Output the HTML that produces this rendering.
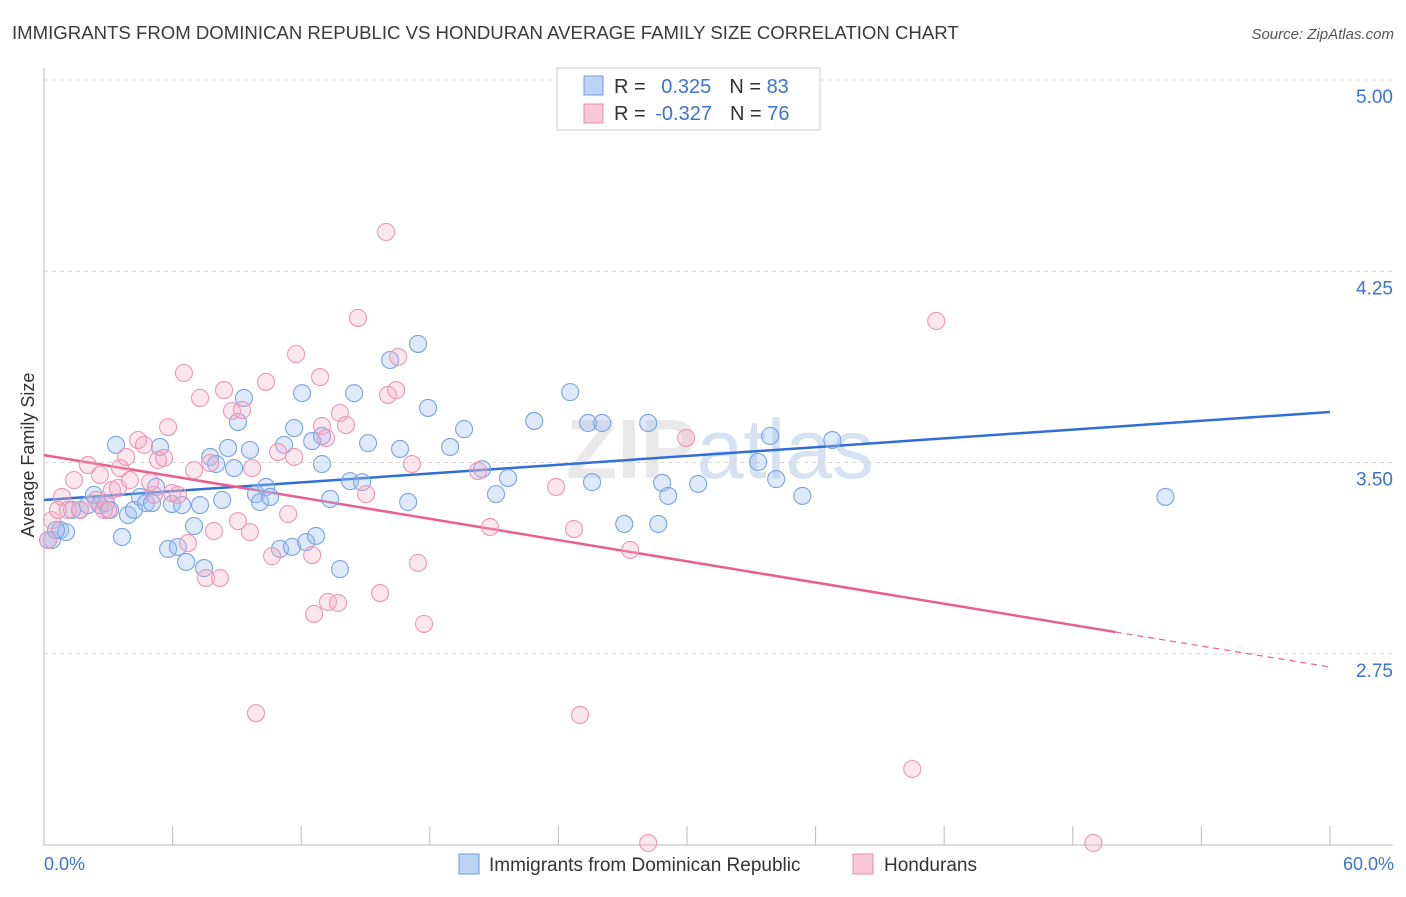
<!DOCTYPE html>
<html><head><meta charset="utf-8"><style>
body{margin:0;background:#fff;font-family:"Liberation Sans",sans-serif;}
svg text{font-family:"Liberation Sans",sans-serif;}
</style></head><body>
<svg id="chart" width="1406" height="892" viewBox="0 0 1406 892">
<text x="12" y="39" font-size="18.6" fill="#3a3a3a">IMMIGRANTS FROM DOMINICAN REPUBLIC VS HONDURAN AVERAGE FAMILY SIZE CORRELATION CHART</text>
<text x="1394" y="39" font-size="15" fill="#555" font-style="italic" text-anchor="end">Source: ZipAtlas.com</text>
<text x="720" y="478" font-size="84" fill="#e9e9e9" text-anchor="middle" font-weight="bold">ZIP<tspan font-weight="normal" fill="#d6e2f2">atlas</tspan></text>
<g id="grid"></g><g id="axes"></g><g id="lines"></g><g id="pts"></g>
<text transform="translate(34,455) rotate(-90)" font-size="18" fill="#333" text-anchor="middle">Average Family Size</text>
<text x="44" y="870" font-size="18" fill="#3b73d0">0.0%</text>
<text x="1394" y="870" font-size="18" fill="#3b73d0" text-anchor="end">60.0%</text>
<g>
<rect x="557" y="68" width="263" height="62" fill="#fff" stroke="#ccc"/>
<rect x="584" y="76" width="19" height="19" fill="#bcd3f5" stroke="#6c9be0"/>
<rect x="584" y="104" width="19" height="19" fill="#f8c8d8" stroke="#e88aaa"/>
<text x="614" y="93" font-size="20" fill="#333">R = <tspan fill="#3b73d0" dx="10">0.325</tspan><tspan dx="18">N = </tspan><tspan fill="#3b73d0">83</tspan></text>
<text x="614" y="120" font-size="20" fill="#333">R = <tspan fill="#3b73d0" dx="4">-0.327</tspan><tspan dx="18">N = </tspan><tspan fill="#3b73d0">76</tspan></text>
</g>
<g>
<rect x="459" y="854" width="20" height="20" fill="#bcd3f5" stroke="#6c9be0"/>
<text x="489" y="871" font-size="19" fill="#333">Immigrants from Dominican Republic</text>
<rect x="853" y="854" width="20" height="20" fill="#f8c8d8" stroke="#e88aaa"/>
<text x="884" y="871" font-size="19" fill="#333">Hondurans</text>
</g>
</svg>
<script>
const yTicks=[5.00,4.25,3.50,2.75];
const xTickPcts=[0,6,12,18,24,30,36,42,48,54,60];
const blueX=[0.37,0.75,1.03,1.31,1.68,2.05,2.33,2.61,2.89,3.08,3.36,3.64,3.92,4.20,4.48,4.76,5.04,5.23,5.41,5.79,5.97,6.25,6.44,6.63,7.00,7.28,7.47,7.75,8.03,8.31,8.59,8.87,9.05,9.33,9.61,9.89,10.08,10.36,10.55,11.01,11.20,11.57,11.67,12.04,12.23,12.51,12.69,12.97,12.97,13.35,13.81,14.28,14.47,14.84,15.12,16.15,16.61,16.99,17.45,17.92,18.95,19.60,20.44,21.09,21.65,22.87,24.55,25.57,25.39,26.04,27.07,28.19,28.66,28.84,29.12,30.52,33.32,33.88,34.16,35.38,36.78,52.32,0.19,0.56];
const blueY=[3.196,3.235,3.227,3.314,3.314,3.333,3.373,3.333,3.341,3.314,3.569,3.208,3.294,3.314,3.365,3.341,3.341,3.404,3.561,3.161,3.337,3.169,3.333,3.110,3.251,3.333,3.086,3.522,3.494,3.353,3.557,3.478,3.659,3.753,3.549,3.376,3.345,3.404,3.365,3.161,3.569,3.169,3.635,3.772,3.188,3.584,3.212,3.494,3.604,3.357,3.082,3.427,3.772,3.423,3.576,3.902,3.553,3.345,3.965,3.714,3.561,3.631,3.474,3.376,3.439,3.663,3.776,3.423,3.655,3.655,3.259,3.655,3.259,3.420,3.369,3.416,3.502,3.604,3.435,3.369,3.588,3.365,3.196,3.235];
const pinkX=[0.19,0.37,0.65,0.84,1.12,1.40,1.68,2.05,2.43,2.61,2.80,2.99,3.17,3.45,3.55,3.83,4.01,4.39,4.67,4.95,5.13,5.32,5.60,5.79,5.97,6.25,6.53,6.72,7.00,7.28,7.56,7.75,7.93,8.21,8.40,8.77,9.05,9.24,9.61,9.71,9.89,10.36,10.64,10.92,11.39,11.67,11.76,12.51,12.60,12.88,12.97,13.16,13.25,13.72,13.81,14.09,14.65,15.03,15.68,15.96,16.05,16.43,16.52,17.17,17.45,17.73,20.25,20.81,23.89,24.73,25.01,27.35,28.19,29.96,40.51,41.63,48.96];
const pinkY=[3.196,3.274,3.314,3.365,3.314,3.431,3.314,3.490,3.353,3.451,3.314,3.314,3.392,3.400,3.478,3.522,3.431,3.588,3.569,3.423,3.373,3.510,3.518,3.639,3.380,3.373,3.851,3.184,3.470,3.753,3.047,3.498,3.231,3.047,3.784,3.702,3.270,3.706,3.227,3.478,2.517,3.816,3.133,3.541,3.298,3.522,3.925,3.137,2.906,3.835,3.643,3.596,2.953,2.949,3.694,3.647,4.067,3.376,2.988,4.404,3.765,3.784,3.914,3.494,3.106,2.867,3.467,3.247,3.404,3.239,2.510,3.157,2.008,3.596,2.298,4.055,2.008];
const blueTrend=[3.353,3.698];
const pinkTrend=[3.529,2.835,2.698];
const pinkSolidEnd=50;
const NS='http://www.w3.org/2000/svg';
const X=p=>44+p*(1330-44)/60;
const Y=v=>80+(5-v)*255;
function mk(tag,attrs,parent){const e=document.createElementNS(NS,tag);for(const k in attrs)e.setAttribute(k,attrs[k]);document.getElementById(parent).appendChild(e);return e;}
yTicks.forEach(t=>{
  const l=mk('line',{x1:44,x2:1393,y1:Y(t),y2:Y(t),stroke:'#d8d8d8','stroke-dasharray':'4,4'},'grid');
  
  
  const tx=mk('text',{x:1393,y:Y(t)+23,'font-size':19,fill:'#3b73d0','text-anchor':'end'},'grid');
  tx.textContent=t.toFixed(2);
  
  
});
let a=mk('line',{x1:44,x2:44,y1:68,y2:845,stroke:'#bbb'},'axes');


a=mk('line',{x1:44,x2:1393,y1:845,y2:845,stroke:'#bbb'},'axes');


xTickPcts.forEach(p=>{
  const t=mk('line',{x1:X(p),x2:X(p),y1:826,y2:845,stroke:'#bbb'},'axes');
  
  
});
function dots(xs,ys,fill,stroke,name){
  xs.forEach((x,i)=>{
    const c=mk('circle',{cx:X(x),cy:Y(ys[i]),r:8.5,fill:fill,stroke:stroke,'stroke-width':1.1},'pts');
    
    
  });
}
dots(blueX,blueY,'rgba(160,192,240,0.35)','#79a3e2','dominican-point');
dots(pinkX,pinkY,'rgba(246,172,200,0.3)','#eb96b4','honduran-point');
let ln=mk('line',{x1:X(0),y1:Y(blueTrend[0]),x2:X(60),y2:Y(blueTrend[1]),stroke:'#2f6fd6','stroke-width':2.5},'lines');


ln=mk('line',{x1:X(0),y1:Y(pinkTrend[0]),x2:X(pinkSolidEnd),y2:Y(pinkTrend[1]),stroke:'#e8608e','stroke-width':2.5},'lines');


ln=mk('line',{x1:X(pinkSolidEnd),y1:Y(pinkTrend[1]),x2:X(60),y2:Y(pinkTrend[2]),stroke:'#e8608e','stroke-width':1.2,'stroke-dasharray':'6,5'},'lines');


</script>
</body></html>
